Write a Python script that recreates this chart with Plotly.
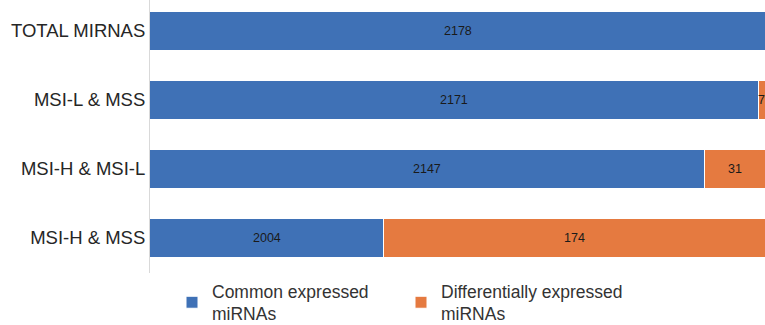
import plotly.graph_objects as go

# Pairwise comparisons of miRNA expression
categories = ["MSI-H & MSS", "MSI-H & MSI-L", "MSI-L & MSS", "TOTAL MIRNAS"]
common = [2004, 2147, 2171, 2178]
differential = [174, 31, 7, 0]

blue = "#3F71B6"
orange = "#E57A40"
font_family = "Liberation Sans, Arial, sans-serif"
x_range = [1900, 2174]

fig = go.Figure()
fig.add_trace(go.Bar(
    y=categories, x=common, orientation="h",
    name="Common expressed<br>miRNAs",
    marker=dict(color=blue, line=dict(color="white", width=1)),
))
fig.add_trace(go.Bar(
    y=categories, x=differential, orientation="h",
    name="Differentially expressed<br>miRNAs",
    marker=dict(color=orange, line=dict(color="white", width=1)),
))

# Value labels centred on the visible part of each segment
annotations = []
for cat, c, d in zip(categories, common, differential):
    for start, val in ((0, c), (c, d)):
        if val <= 0:
            continue
        lo = max(start, x_range[0])
        hi = min(start + val, x_range[1])
        annotations.append(dict(
            x=(lo + hi) / 2, y=cat, xref="x", yref="y", text=str(val),
            showarrow=False, font=dict(size=12.5, color="#1a1a1a", family=font_family),
        ))

fig.update_layout(
    barmode="stack",
    bargap=0.435,
    width=765, height=325,
    margin=dict(l=150, r=0, t=0, b=52),
    paper_bgcolor="white", plot_bgcolor="white",
    font=dict(family=font_family, size=18, color="#262626"),
    xaxis=dict(range=x_range, showticklabels=False, showgrid=False,
               zeroline=False, showline=False, ticks=""),
    yaxis=dict(categoryorder="array", categoryarray=categories,
               range=[-0.507, 3.449], showline=True, linecolor="#d9d9d9",
               linewidth=1, ticks="", showgrid=False,
               tickfont=dict(size=18.5, color="#262626")),
    legend=dict(orientation="h", xref="container", yref="container",
                x=172 / 765, y=(325 - 273) / 325, xanchor="left", yanchor="top",
                entrywidth=184, entrywidthmode="pixels",
                font=dict(size=17.5, color="#333333"), traceorder="normal"),
    annotations=annotations,
)

fig.write_html("out.html")
